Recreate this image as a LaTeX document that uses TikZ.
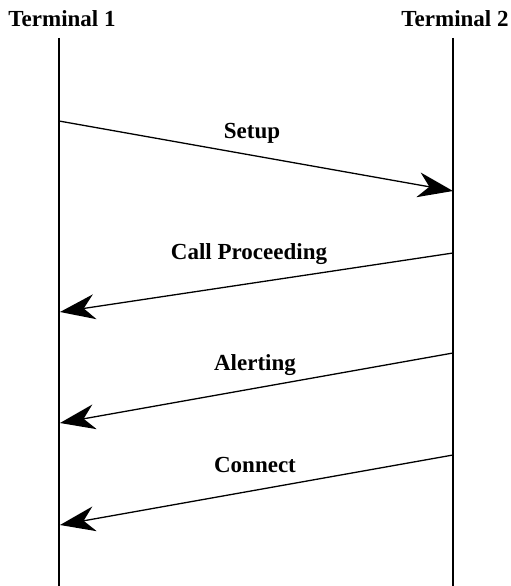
\documentclass[tikz,border=0pt]{standalone}
\usepackage{fontspec}
\setmainfont{Liberation Serif}
\usetikzlibrary{arrows.meta,positioning}

\begin{document}
\begin{tikzpicture}[x=1pt,y=-1pt]
    \tikzset{lifeline/.style={line width=1.3pt},
      msg/.style={line width=1.3pt, -{Stealth[length=35pt,width=25pt,inset=11pt]}},
      lbl/.style={font=\fontsize{23}{27}\selectfont\bfseries, inner sep=0pt, anchor=base}
    }
    \useasboundingbox (0,0) rectangle (511,586);

    \node[lbl] (T1) at (62,27) {Terminal 1};
    \node[lbl] (T2) at (455,27) {Terminal 2};

    \coordinate (T1top) at (59,38);
    \coordinate (T1bot) at (59,586);
    \coordinate (T2top) at (453,38);
    \coordinate (T2bot) at (453,586);

    \draw[lifeline] (T1top) -- (T1bot);
    \draw[lifeline] (T2top) -- (T2bot);

    % message end points on the lifelines
    \coordinate (setupA) at (59,121);    \coordinate (setupB) at (453,191);
    \coordinate (procA) at (453,253);    \coordinate (procB) at (60,312);
    \coordinate (alertA) at (453,353);   \coordinate (alertB) at (60,423);
    \coordinate (connA) at (453,455);    \coordinate (connB) at (60,525);

    \draw[msg] (setupA) -- (setupB);
    \draw[msg] (procA) -- (procB);
    \draw[msg] (alertA) -- (alertB);
    \draw[msg] (connA) -- (connB);

    \node[lbl] (setup) at (252,138) {Setup};
    \node[lbl] (proc) at (249,259) {Call Proceeding};
    \node[lbl] (alert) at (255,370) {Alerting};
    \node[lbl] (conn) at (255,472) {Connect};
\end{tikzpicture}
\end{document}
